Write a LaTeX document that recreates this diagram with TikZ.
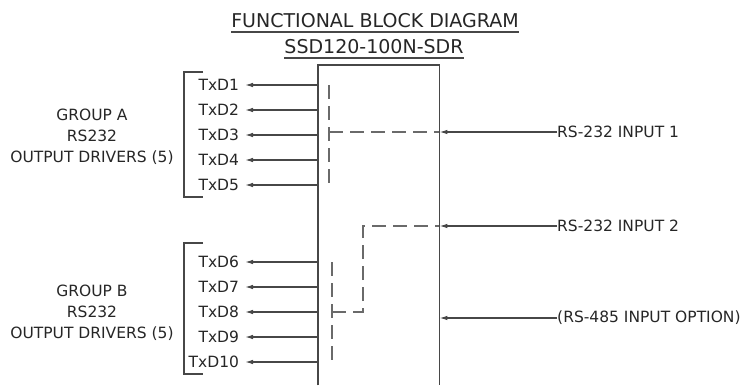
\documentclass[tikz,border=0pt]{standalone}
\usepackage{fontspec}
\setmainfont{DejaVu Sans}
\usepackage{tikz}
\usetikzlibrary{arrows.meta,positioning}
\definecolor{FbdLine}{HTML}{474747}
\definecolor{FbdDash}{HTML}{6A6A6A}
\definecolor{FbdText}{HTML}{262626}

\begin{document}
\begin{tikzpicture}[x=1pt,y=-1pt,>={Latex[length=8pt,width=4.6pt]},
  wire/.style={draw=FbdLine,line width=1.3pt},
  dashwire/.style={draw=FbdDash,line width=1.4pt,dash pattern=on 14pt off 7pt},
  brkt/.style={draw=FbdLine,line width=1.1pt},
  txd/.style={font=\fontsize{15.5}{18}\selectfont,text=FbdText,anchor=east,
              inner xsep=2pt,outer xsep=4pt},
  inlbl/.style={font=\fontsize{15.5}{18}\selectfont,text=FbdText,anchor=west,
              inner xsep=0pt},
  grp/.style={font=\fontsize{15.5}{21}\selectfont,text=FbdText,align=center},
  ttl/.style={font=\fontsize{19}{22}\selectfont,text=FbdText,anchor=base,inner sep=0pt}]
  \useasboundingbox (0,0) rectangle (747,386);

  % title
  \node[ttl] (ttl1) at (375,27) {FUNCTIONAL BLOCK DIAGRAM};
  \node[ttl] (ttl2) at (374,53) {SSD120-100N-SDR};
  \draw[wire] ([yshift=-5pt]ttl1.base west) -- ([yshift=-5pt]ttl1.base east);
  \draw[wire] ([yshift=-5pt]ttl2.base west) -- ([yshift=-5pt]ttl2.base east);

  % block, open at the bottom
  \node[minimum width=121pt,minimum height=320pt,anchor=north west,inner sep=0pt] (blk) at (318,65) {};
  \draw[wire] (blk.south west) -- (blk.north west) -- (blk.north east) -- (blk.south east);

  % group A
  \node[grp] (grpA) at (92,137) {GROUP A\\RS232\\OUTPUT DRIVERS (5)};
  \draw[brkt] (203,72) -| (184,197) -- (203,197);
  \node[txd] (txd1) at (245,85) {TxD1};
  \node[txd] (txd2) at (245,110) {TxD2};
  \node[txd] (txd3) at (245,135) {TxD3};
  \node[txd] (txd4) at (245,160) {TxD4};
  \node[txd] (txd5) at (245,185) {TxD5};
  \draw[->,wire] (blk.west |- txd1) -- (txd1);
  \draw[->,wire] (blk.west |- txd2) -- (txd2);
  \draw[->,wire] (blk.west |- txd3) -- (txd3);
  \draw[->,wire] (blk.west |- txd4) -- (txd4);
  \draw[->,wire] (blk.west |- txd5) -- (txd5);

  % group B
  \node[grp] (grpB) at (92,313) {GROUP B\\RS232\\OUTPUT DRIVERS (5)};
  \draw[brkt] (203,243) -| (184,374) -- (203,374);
  \node[txd] (txd6) at (245,262) {TxD6};
  \node[txd] (txd7) at (245,287) {TxD7};
  \node[txd] (txd8) at (245,312) {TxD8};
  \node[txd] (txd9) at (245,337) {TxD9};
  \node[txd] (txd10) at (245,362) {TxD10};
  \draw[->,wire] (blk.west |- txd6) -- (txd6);
  \draw[->,wire] (blk.west |- txd7) -- (txd7);
  \draw[->,wire] (blk.west |- txd8) -- (txd8);
  \draw[->,wire] (blk.west |- txd9) -- (txd9);
  \draw[->,wire] (blk.west |- txd10) -- (txd10);

  % inputs
  \node[inlbl] (in1) at (557,132) {RS-232 INPUT 1};
  \node[inlbl] (in2) at (557,226) {RS-232 INPUT 2};
  \node[inlbl] (in485) at (557,318) {(RS-485 INPUT OPTION)};
  \draw[->,wire] (in1) -- (in1 -| blk.east);
  \draw[->,wire] (in2) -- (in2 -| blk.east);
  \draw[->,wire] (in485) -- (in485 -| blk.east);

  % internal routing
  \coordinate (busA) at (329,0);
  \coordinate (busB) at (332,0);
  \coordinate (jogB) at (363,0);
  \draw[dashwire] (busA |- txd1) -- (busA |- txd5);
  \draw[dashwire] (busA |- in1) -- (in1 -| blk.east);
  \draw[dashwire] (busB |- txd6) -- (busB |- txd10);
  \draw[dashwire] (busB |- txd8) -- (jogB |- txd8) -- (jogB |- in2) -- (in2 -| blk.east);
\end{tikzpicture}
\end{document}
